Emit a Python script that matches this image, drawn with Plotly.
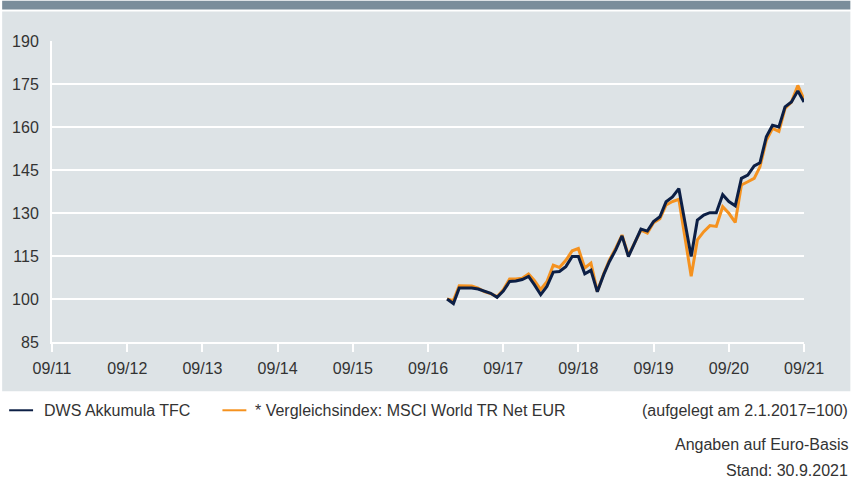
import plotly.graph_objects as go
import pandas as pd

# Monthly dates (month ends) Dec 2016 .. Sep 2021
dates = pd.date_range("2016-12-31", "2021-09-30", freq="ME").strftime("%Y-%m-%d").tolist()

dws_akkumula = [
    100.0, 98.4, 103.8, 103.8, 103.8, 103.5, 102.8, 102.0, 100.6, 102.8,
    106.1, 106.3, 106.8, 107.9, 105.0, 101.5, 104.4, 109.4, 109.6, 111.3,
    114.8, 114.8, 108.8, 110.0, 102.5, 108.5, 113.1, 117.2, 122.0, 114.8,
    119.5, 124.4, 123.7, 127.0, 128.7, 133.9, 135.6, 138.5, 127.0, 114.8,
    127.5, 129.3, 130.1, 130.1, 136.4, 134.0, 132.5, 142.1, 143.2, 146.4,
    147.5, 156.6, 160.6, 160.0, 167.0, 168.7, 172.6, 168.7,
]

msci_world = [
    100.0, 99.5, 104.6, 104.6, 104.5, 103.8, 102.6, 101.9, 100.8, 103.2,
    107.0, 107.0, 107.2, 108.7, 106.5, 103.3, 106.0, 111.8, 111.0, 113.5,
    116.8, 117.6, 110.8, 112.5, 102.6, 108.8, 113.6, 117.8, 122.3, 115.2,
    119.8, 124.0, 123.0, 126.6, 128.0, 132.8, 134.0, 134.8, 121.8, 107.9,
    120.6, 123.5, 125.6, 125.3, 132.2, 129.9, 126.7, 139.8, 140.9, 142.1,
    146.1, 155.4, 159.5, 158.5, 166.5, 168.7, 174.5, 169.6,
]

tick_dates = [f"{y}-09-30" for y in range(2011, 2022)]
tick_labels = ["09/11", "09/12", "09/13", "09/14", "09/15", "09/16",
               "09/17", "09/18", "09/19", "09/20", "09/21"]
y_ticks = [85, 100, 115, 130, 145, 160, 175, 190]

NAVY = "#0c1f45"
ORANGE = "#f5921f"
PANEL = "#dde3e6"
HEADER = "#7a8d9b"
TEXT = "#333333"
FONT = "Liberation Sans, Arial, sans-serif"

W, H = 851, 481
L, R, T, B = 50, 46.5, 40.5, 138.5
PW = W - L - R
PH = H - T - B


def px_x(x):
    return (x - L) / PW


def px_y(y):
    return (H - B - y) / PH


fig = go.Figure()
fig.add_trace(go.Scatter(x=dates, y=msci_world, mode="lines",
                         line=dict(color=ORANGE, width=3),
                         name="* Vergleichsindex: MSCI World TR Net EUR",
                         showlegend=False))
fig.add_trace(go.Scatter(x=dates, y=dws_akkumula, mode="lines",
                         line=dict(color=NAVY, width=3),
                         name="DWS Akkumula TFC", showlegend=False))

shapes = [
    # header bar
    dict(type="rect", xref="paper", yref="paper", x0=px_x(0), x1=px_x(W),
         y0=px_y(9), y1=px_y(0), fillcolor=HEADER, line=dict(width=0), layer="below"),
    # grey panel
    dict(type="rect", xref="paper", yref="paper", x0=px_x(0), x1=px_x(W),
         y0=px_y(392), y1=px_y(11), fillcolor=PANEL, line=dict(width=0), layer="below"),
    # legend symbols
    dict(type="line", xref="paper", yref="paper", x0=px_x(7), x1=px_x(31),
         y0=px_y(411), y1=px_y(411), line=dict(color=NAVY, width=2)),
    dict(type="line", xref="paper", yref="paper", x0=px_x(221), x1=px_x(245),
         y0=px_y(411), y1=px_y(411), line=dict(color=ORANGE, width=2)),
]

annotations = [
    dict(text="DWS Akkumula TFC", x=px_x(40), y=px_y(411), xanchor="left", yanchor="middle"),
    dict(text="* Vergleichsindex: MSCI World TR Net EUR", x=px_x(252), y=px_y(411),
         xanchor="left", yanchor="middle"),
    dict(text="(aufgelegt am 2.1.2017=100)", x=px_x(851), y=px_y(411),
         xanchor="right", yanchor="middle"),
    dict(text="Angaben auf Euro-Basis", x=px_x(851), y=px_y(445),
         xanchor="right", yanchor="middle"),
    dict(text="Stand: 30.9.2021", x=px_x(851), y=px_y(471),
         xanchor="right", yanchor="middle"),
]
for a in annotations:
    a.update(xref="paper", yref="paper", showarrow=False,
             font=dict(family=FONT, size=16, color=TEXT))

fig.update_layout(
    width=W, height=H,
    margin=dict(l=L, r=R, t=T, b=B, pad=0),
    paper_bgcolor="white",
    plot_bgcolor=PANEL,
    shapes=shapes,
    annotations=annotations,
    showlegend=False,
    font=dict(family=FONT, size=16, color=TEXT),
    xaxis=dict(
        type="date",
        range=[tick_dates[0], tick_dates[-1]],
        tickmode="array", tickvals=tick_dates, ticktext=tick_labels,
        showgrid=False, zeroline=False,
        showline=True, linecolor="white", linewidth=2,
        ticks="outside", ticklen=8, tickwidth=2, tickcolor="white",
        ticklabelstandoff=3,
        tickfont=dict(family=FONT, size=16, color=TEXT),
        fixedrange=True,
    ),
    yaxis=dict(
        range=[85, 190],
        tickmode="array", tickvals=y_ticks,
        showgrid=True, gridcolor="white", gridwidth=2,
        zeroline=False,
        showline=True, linecolor="white", linewidth=2,
        ticks="", ticklabelstandoff=8,
        tickfont=dict(family=FONT, size=16, color=TEXT),
        fixedrange=True,
    ),
)

fig.write_html(
    "out.html",
    config={"displayModeBar": False},
    post_script="document.body.style.margin='0px';document.body.style.overflow='hidden';",
)
